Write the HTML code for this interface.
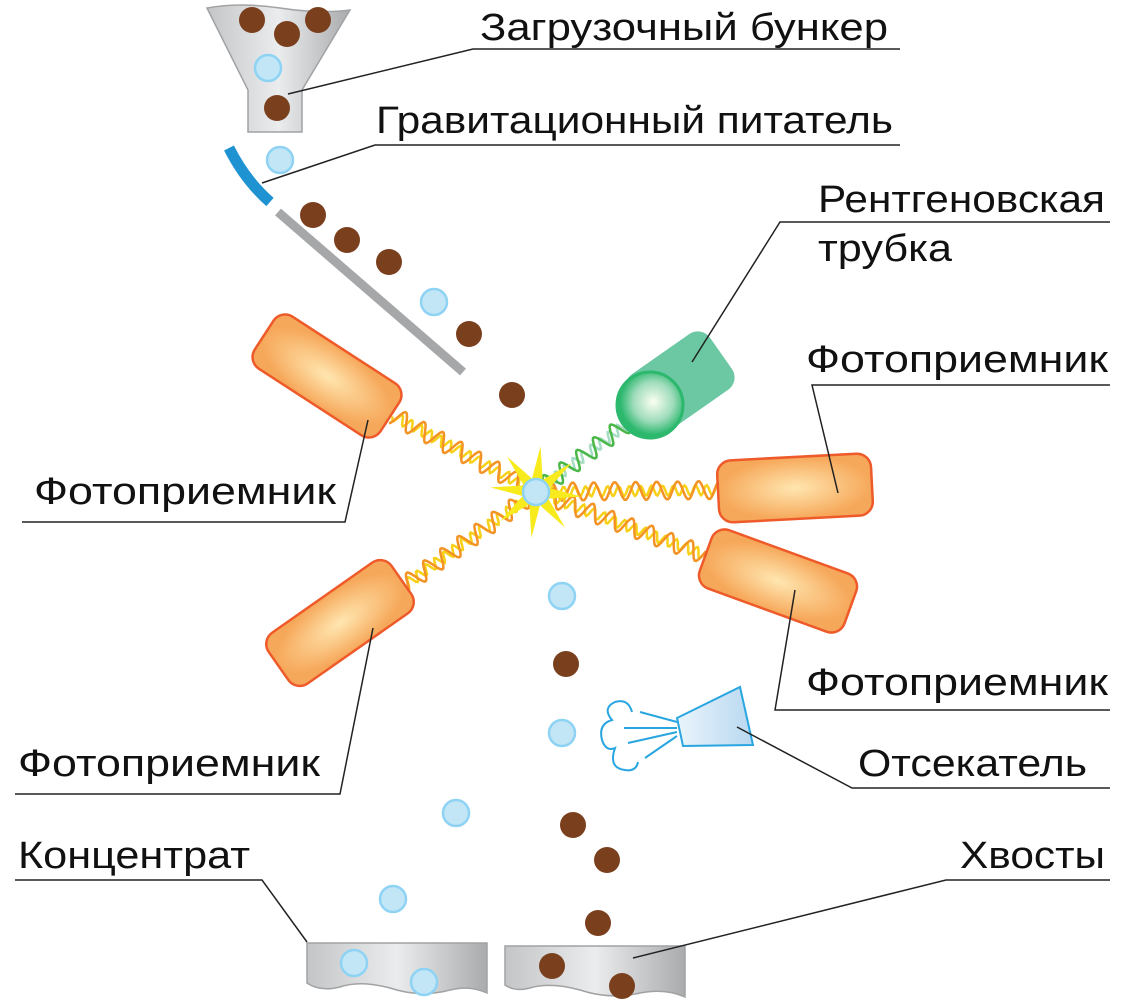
<!DOCTYPE html>
<html><head><meta charset="utf-8"><style>
body{margin:0;background:#fff;width:1122px;height:1004px;overflow:hidden}
svg{display:block}
text{font-family:"Liberation Sans",sans-serif;font-size:38px;fill:#111}
</style></head><body>
<svg id="s" width="1122" height="1004" viewBox="0 0 1122 1004">
<defs>
<linearGradient id="gr" x1="0" x2="1"><stop offset="0" stop-color="#c4c5c7"/><stop offset=".5" stop-color="#ebeced"/><stop offset="1" stop-color="#a9abad"/></linearGradient>
<radialGradient id="or"><stop offset="0" stop-color="#ffe6b0"/><stop offset="1" stop-color="#f6a85a"/></radialGradient>
<radialGradient id="sp" cx=".55" cy=".45"><stop offset="0" stop-color="#fbfff2"/><stop offset=".6" stop-color="#9fdcbc"/><stop offset="1" stop-color="#2cb86d"/></radialGradient>
<linearGradient id="ej" x1="0" x2="1"><stop offset="0" stop-color="#eaf4fc"/><stop offset="1" stop-color="#b8d8f0"/></linearGradient>
</defs>
<g id="waves"></g>
<path d="M207,8 Q240,2 280,8 T350,10 L302,90 L302,132 L248,132 L248,90 Z" fill="url(#gr)" stroke="#a0a2a4" stroke-width="1.5"/>
<g fill="#7a3f1d"><circle cx="252" cy="20" r="13"/><circle cx="287" cy="34" r="13"/><circle cx="318" cy="20" r="13"/><circle cx="277" cy="108" r="13"/>
<circle cx="313" cy="215" r="13"/><circle cx="347" cy="240" r="13"/><circle cx="389" cy="262" r="13"/><circle cx="469" cy="334" r="13"/><circle cx="512" cy="395" r="13"/>
<circle cx="566" cy="664" r="13"/><circle cx="573" cy="825" r="13"/><circle cx="607" cy="860" r="13"/><circle cx="598" cy="923" r="13"/></g>
<g fill="#c3e6f6" stroke="#8fd3f4" stroke-width="2.5"><circle cx="268" cy="68" r="13"/><circle cx="280" cy="160" r="13"/><circle cx="434" cy="302" r="13"/>
<circle cx="562" cy="596" r="13"/><circle cx="562" cy="733" r="13"/><circle cx="456" cy="813" r="13"/><circle cx="393" cy="899" r="13"/></g>
<path d="M229,148 Q245,180 270,202" fill="none" stroke="#1f93d2" stroke-width="11"/>
<line x1="278" y1="212" x2="463" y2="372" stroke="#a5a7a9" stroke-width="9"/>
<g stroke="#ee5a2a" stroke-width="2.5" fill="url(#or)">
<rect x="-75" y="-31" width="150" height="62" rx="14" transform="translate(327,376) rotate(33)"/>
<rect x="-77" y="-31" width="154" height="62" rx="14" transform="translate(795,488) rotate(-3)"/>
<rect x="-77" y="-31" width="154" height="62" rx="14" transform="translate(778,581) rotate(20)"/>
<rect x="-75" y="-31" width="150" height="62" rx="14" transform="translate(340,623) rotate(-35)"/>
</g>
<rect x="-50" y="-34" width="100" height="68" rx="15" fill="#6cc7a3" transform="translate(680,382) rotate(-35)"/>
<circle cx="650" cy="405" r="33" fill="url(#sp)" stroke="#2cb86d" stroke-width="3"/>
<polygon id="star" fill="#f7ea1d"/>
<circle cx="536" cy="492" r="13" fill="#c3e6f6" stroke="#8fd3f4" stroke-width="2.5"/>
<path d="M677,718 L740,687 L753,745 L683,746 Z" fill="url(#ej)" stroke="#29a6e0" stroke-width="2"/>
<g stroke="#29a6e0" stroke-width="2" fill="none">
<line x1="677" y1="722" x2="640" y2="712"/><line x1="677" y1="728" x2="624" y2="728"/><line x1="677" y1="732" x2="628" y2="743"/><line x1="677" y1="736" x2="645" y2="758"/>
<path d="M632,712 Q628,698 615,702 Q602,708 612,720 Q598,724 602,740 Q606,752 615,748 Q608,768 625,770 Q636,772 638,762"/>
</g>
<path d="M307,943 L487,943 L487,993 Q470,985 450,990 Q420,998 390,988 Q360,980 340,987 Q320,992 307,983 Z" fill="url(#gr)" stroke="#a0a2a4" stroke-width="1.5"/>
<path d="M505,946 L685,946 L685,997 Q665,988 640,993 Q610,1000 580,990 Q550,982 530,988 Q515,992 505,985 Z" fill="url(#gr)" stroke="#a0a2a4" stroke-width="1.5"/>
<g fill="#c3e6f6" stroke="#8fd3f4" stroke-width="2.5"><circle cx="354" cy="963" r="13"/><circle cx="424" cy="982" r="13"/></g>
<g fill="#7a3f1d"><circle cx="552" cy="966" r="13"/><circle cx="622" cy="986" r="13"/></g>
<g stroke="#222" stroke-width="1.5" fill="none">
<polyline points="900,49 473,49 288,94"/>
<polyline points="900,145 375,145 262,183"/>
<polyline points="1110,222 780,222 692,362"/>
<polyline points="1110,385 812,385 838,493"/>
<polyline points="22,522 345,522 368,420"/>
<polyline points="1110,710 775,710 795,590"/>
<polyline points="15,794 340,794 373,628"/>
<polyline points="1110,788 852,788 737,727"/>
<polyline points="15,880 262,880 307,942"/>
<polyline points="1110,880 946,880 633,958"/>
</g>
<text x="480" y="40" textLength="408" lengthAdjust="spacingAndGlyphs">Загрузочный бункер</text>
<text x="376" y="133" textLength="517" lengthAdjust="spacingAndGlyphs">Гравитационный питатель</text>
<text x="818" y="212" textLength="287" lengthAdjust="spacingAndGlyphs">Рентгеновская</text>
<text x="818" y="261" textLength="134" lengthAdjust="spacingAndGlyphs">трубка</text>
<text x="806" y="372" textLength="302" lengthAdjust="spacingAndGlyphs">Фотоприемник</text>
<text x="34" y="504" textLength="302" lengthAdjust="spacingAndGlyphs">Фотоприемник</text>
<text x="806" y="695" textLength="302" lengthAdjust="spacingAndGlyphs">Фотоприемник</text>
<text x="18" y="776" textLength="302" lengthAdjust="spacingAndGlyphs">Фотоприемник</text>
<text x="858" y="776" textLength="229" lengthAdjust="spacingAndGlyphs">Отсекатель</text>
<text x="18" y="868" textLength="232" lengthAdjust="spacingAndGlyphs">Концентрат</text>
<text x="960" y="868" textLength="145" lengthAdjust="spacingAndGlyphs">Хвосты</text>
</svg>
<script>
(function(){
var g=document.getElementById('waves'),ns='http://www.w3.org/2000/svg';
function wave(x1,y1,x2,y2,amp,wl,ph,col,w){
 var dx=x2-x1,dy=y2-y1,L=Math.hypot(dx,dy),ux=dx/L,uy=dy/L,nx=-uy,ny=ux,d='';
 for(var t=0;t<=L;t+=1.5){var a=amp*Math.sin(2*Math.PI*t/wl+ph);
  d+=(t?'L':'M')+(x1+ux*t+nx*a).toFixed(1)+','+(y1+uy*t+ny*a).toFixed(1);}
 var p=document.createElementNS(ns,'path');p.setAttribute('d',d);p.setAttribute('fill','none');
 p.setAttribute('stroke',col);p.setAttribute('stroke-width',w);g.appendChild(p);}
var c=[536,492],ends=[[392,415],[718,490],[705,555],[405,585]];
ends.forEach(function(e){wave(c[0],c[1],e[0],e[1],5,11,1.5,'#f7d117',2.5);wave(c[0],c[1],e[0],e[1],9,21,0,'#f39325',2.5);});
wave(c[0],c[1],625,425,5,11,1.5,'#a6dcc4',2.5);wave(c[0],c[1],625,425,9,21,0,'#4bb748',2.5);
var pts=[],n=8;for(var i=0;i<2*n;i++){var r=i%2?14:46,a=i*Math.PI/n-Math.PI/2+0.1;pts.push((536+r*Math.cos(a)).toFixed(1)+','+(492+r*Math.sin(a)).toFixed(1));}
document.getElementById('star').setAttribute('points',pts.join(' '));
})();
</script>
</body></html>
